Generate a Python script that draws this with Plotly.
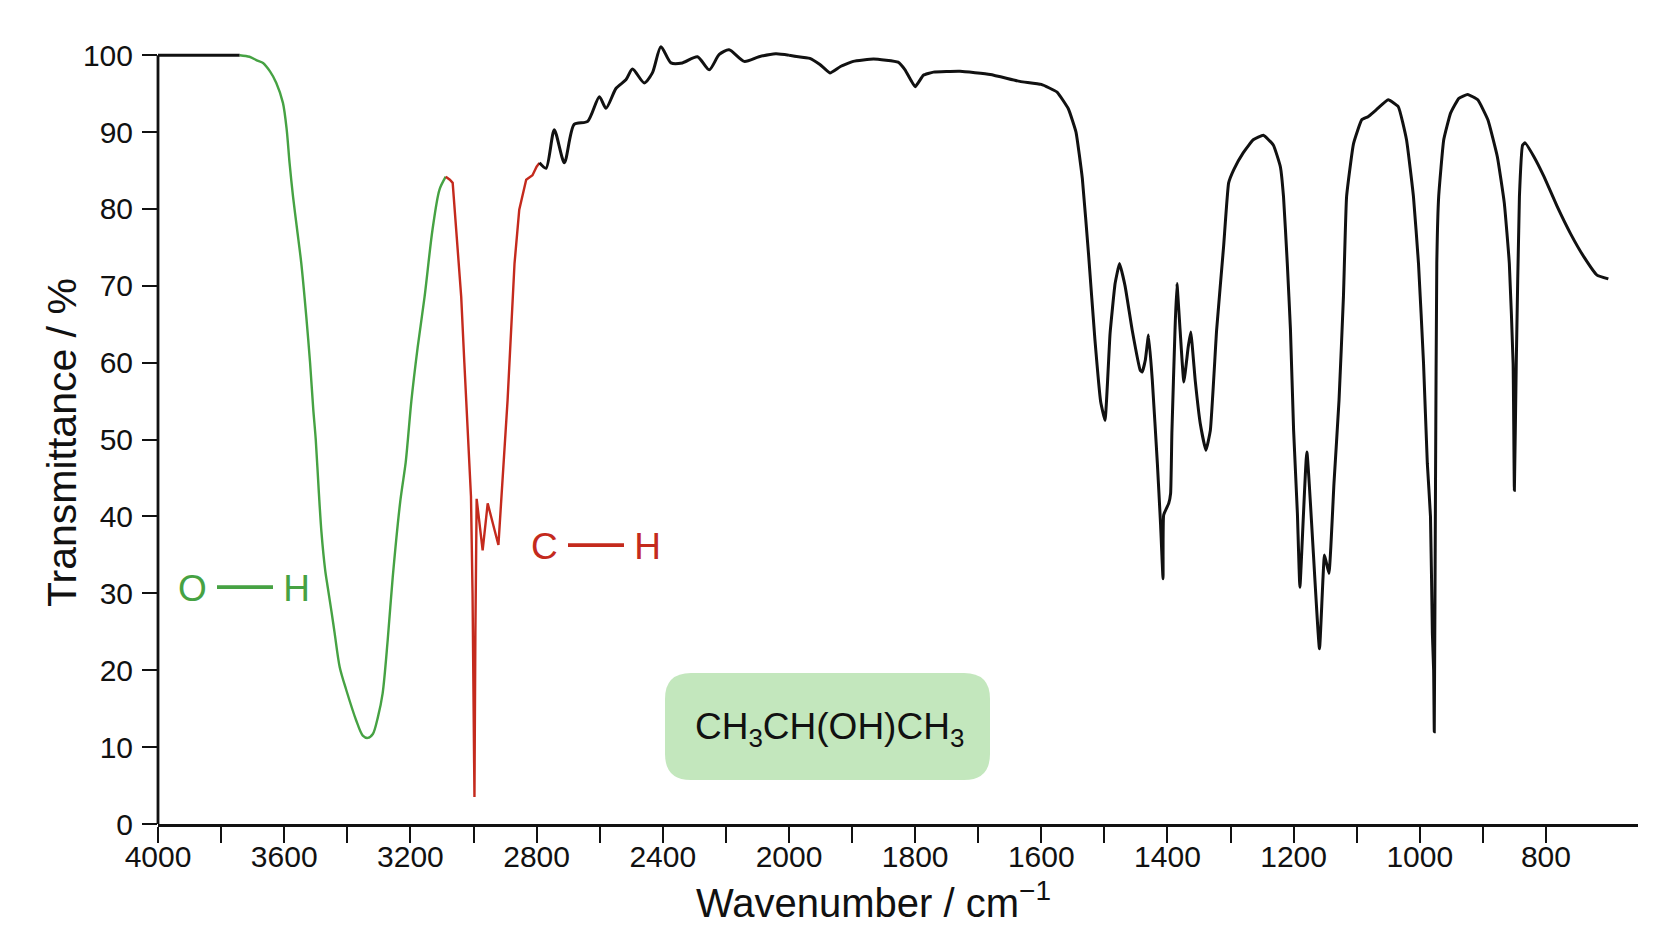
import plotly.graph_objects as go

# ---------------- data ----------------
# wavenumber / cm-1 and transmittance / %
flat_wn = [4000, 3870, 3741]
flat_T = [100, 100, 100]

oh_wn = [3741, 3710, 3685, 3667, 3645, 3625, 3604, 3592, 3583, 3572, 3559, 3546,
         3530, 3518, 3508, 3500, 3490, 3482, 3470, 3462, 3450, 3440, 3424, 3403,
         3372, 3351, 3335, 3319, 3303, 3288, 3272, 3256, 3232, 3215, 3208, 3197,
         3177, 3155, 3130, 3108, 3088]
oh_T = [100, 99.8, 99.3, 99, 97.9, 96.4, 93.8, 90.3, 86, 81.6, 77.3, 73,
        66, 60, 54, 50, 43, 38, 33, 30.8, 27.6, 24.8, 20.4, 17.4,
        13.5, 11.5, 11.2, 11.7, 13.9, 17, 23.9, 32.1, 42, 47, 50, 55,
        62, 68.6, 77.3, 82.5, 84.2]

ch_wn = [3088, 3075, 3066, 3055, 3039, 3029, 3018, 3008, 3003, 2999, 2997, 2994,
         2990, 2971, 2955, 2921, 2908, 2892, 2886, 2870, 2855, 2833, 2813, 2800, 2791]
ch_T = [84.2, 83.8, 83.4, 77.3, 68.6, 60, 51.2, 42.6, 30, 12, 3.5, 25,
        42.3, 35.6, 41.7, 36.3, 44.3, 55.1, 60, 72.9, 79.9, 83.8, 84.4, 85.5, 86]

hi_wn = [2791, 2770, 2744, 2712, 2681, 2638, 2601, 2580, 2548, 2517, 2496, 2459,
         2433, 2406, 2374, 2338, 2290, 2253, 2221, 2190, 2142, 2095, 2042, 2000]
hi_T = [86, 85.3, 90.3, 86, 91, 91.4, 94.6, 93.1, 95.7, 96.8, 98.2, 96.4,
        97.7, 101.1, 99, 99, 99.8, 98.1, 100.1, 100.7, 99.2, 99.8, 100.2, 100]

fp_wn = [2000, 1993, 1967, 1951, 1935, 1919, 1898, 1866, 1827, 1816, 1800, 1787,
         1771, 1729, 1681, 1634, 1600, 1575, 1557, 1545, 1535, 1525, 1515, 1506,
         1499, 1491, 1483, 1476, 1467, 1456, 1443, 1440, 1435, 1430, 1424, 1416,
         1411, 1407, 1406, 1398, 1395, 1393, 1388, 1385, 1380, 1374, 1367, 1363,
         1356, 1348, 1339, 1332, 1322, 1311, 1303, 1295, 1280, 1264, 1248, 1232,
         1221, 1216, 1210, 1205, 1200, 1194, 1190, 1179, 1159, 1151, 1144, 1136,
         1128, 1121, 1116, 1105, 1092, 1082, 1069, 1050, 1034, 1021, 1010, 1002,
         994, 988, 983, 980, 978, 977, 975, 973, 970, 962, 951, 938,
         924, 908, 892, 877, 866, 858, 852, 850, 847, 842, 837, 833,
         819, 803, 782, 761, 740, 719, 701]
fp_T = [100, 99.9, 99.6, 98.8, 97.7, 98.5, 99.2, 99.5, 99.1, 98.1, 95.9, 97.4,
        97.8, 97.9, 97.5, 96.6, 96.2, 95.2, 93, 90, 84, 74, 63, 55,
        52.5, 63.8, 70.3, 72.9, 69.9, 64.3, 59, 58.8, 60.4, 63.6, 57.7, 46.9,
        39.1, 31.9, 40.2, 41.7, 43, 50.8, 64.3, 70.3, 64.3, 57.5, 62.1, 64,
        57.7, 52.1, 48.6, 51.2, 64.3, 75.1, 83.4, 85.1, 87.3, 89, 89.6, 88.3,
        85.5, 81.6, 72.9, 64.3, 51.2, 40.4, 30.8, 48.4, 22.8, 35, 32.6, 44.3,
        55.1, 68.6, 81.6, 88.5, 91.6, 92, 92.9, 94.2, 93.3, 89, 81.6, 72.9,
        59.9, 46.9, 40, 24.8, 20, 12, 45, 72.9, 81.6, 89, 92.5, 94.4,
        94.9, 94.2, 91.6, 86.8, 80.8, 72.9, 59.9, 43.4, 59.9, 81.6, 88.3, 88.6,
        86.8, 84.2, 80.3, 76.8, 73.8, 71.4, 70.9]

# axis ticks
x1_ticks = [4000, 3600, 3200, 2800, 2400, 2000]
x1_labels = ["4000", "3600", "3200", "2800", "2400", "2000"]
x1_minor = [3800, 3400, 3000, 2600, 2200]
x2_ticks = [1800, 1600, 1400, 1200, 1000, 800]
x2_labels = ["1800", "1600", "1400", "1200", "1000", "800"]
x2_minor = [1900, 1700, 1500, 1300, 1100, 900]
y_ticks = [0, 10, 20, 30, 40, 50, 60, 70, 80, 90, 100]

# ---------------- layout geometry ----------------
# page body has an 8px margin, so the figure is 16px smaller than the window
W, H = 1642, 920
ML, MR, MT, MB = 150, 12, 28, 104
PW, PH = W - ML - MR, H - MT - MB
SPLIT = 631 / PW


def px(xr):  # reference-picture x pixel -> paper
    return (xr - 8 - ML) / PW


def py(yr):  # reference-picture y pixel -> paper
    return (H - MB - (yr - 8)) / PH


BLACK = "#111111"
GREEN = "#46a243"
RED = "#c42a1d"
FONT = "Liberation Sans, Arial, sans-serif"

fig = go.Figure()
fig.add_trace(go.Scatter(x=flat_wn, y=flat_T, mode="lines", xaxis="x", yaxis="y",
                         line=dict(color=BLACK, width=3), showlegend=False))
fig.add_trace(go.Scatter(x=oh_wn, y=oh_T, mode="lines", xaxis="x", yaxis="y",
                         line=dict(color=GREEN, width=2.4, shape="spline", smoothing=0.8),
                         showlegend=False))
fig.add_trace(go.Scatter(x=ch_wn, y=ch_T, mode="lines", xaxis="x", yaxis="y",
                         line=dict(color=RED, width=2.4), showlegend=False))
fig.add_trace(go.Scatter(x=hi_wn, y=hi_T, mode="lines", xaxis="x", yaxis="y",
                         line=dict(color=BLACK, width=3, shape="spline", smoothing=0.7),
                         showlegend=False))
fig.add_trace(go.Scatter(x=fp_wn, y=fp_T, mode="lines", xaxis="x2", yaxis="y2",
                         line=dict(color=BLACK, width=3, shape="spline", smoothing=0.35),
                         showlegend=False))

tickfont = dict(family=FONT, size=30, color=BLACK)
xcommon = dict(showline=True, linewidth=2.8, linecolor=BLACK, ticks="outside",
               ticklen=16, tickwidth=2, tickcolor=BLACK, showgrid=False,
               zeroline=False, tickfont=tickfont, ticklabelstandoff=-12,
               automargin=False)
minor_style = dict(ticks="outside", ticklen=16, tickwidth=2, tickcolor=BLACK,
                   showgrid=False, tickmode="array")

fig.update_layout(
    template="none",
    autosize=False,
    width=W, height=H,
    margin=dict(l=ML, r=MR, t=MT, b=MB, pad=0, autoexpand=False),
    paper_bgcolor="white", plot_bgcolor="white",
    xaxis=dict(domain=[0, SPLIT], range=[4000, 2000], anchor="y",
               tickmode="array", tickvals=x1_ticks, ticktext=x1_labels,
               minor=dict(tickvals=x1_minor, **minor_style), **xcommon),
    xaxis2=dict(domain=[SPLIT, 1], range=[2000, 654], anchor="y2",
                tickmode="array", tickvals=x2_ticks, ticktext=x2_labels,
                minor=dict(tickvals=x2_minor, **minor_style), **xcommon),
    yaxis=dict(domain=[0, 1], range=[0, 102.5], anchor="x", showline=False,
               ticks="outside", ticklen=15, tickwidth=2, tickcolor=BLACK,
               tickmode="array", tickvals=y_ticks, showgrid=False, zeroline=False,
               tickfont=tickfont, ticklabelstandoff=3, automargin=False),
    yaxis2=dict(domain=[0, 1], range=[0, 102.5], anchor="x2", visible=False,
                automargin=False),
)

# y axis line (only from 0 to 100)
fig.add_shape(type="line", xref="paper", yref="y", x0=0, x1=0, y0=0, y1=100,
              line=dict(color=BLACK, width=2.8))

# formula box (rounded rectangle)
bx0, bx1, by0, by1 = px(665), px(990), py(780), py(673)
rx, ry = 26 / PW, 26 / PH
path = (f"M {bx0 + rx},{by0} L {bx1 - rx},{by0} Q {bx1},{by0} {bx1},{by0 + ry} "
        f"L {bx1},{by1 - ry} Q {bx1},{by1} {bx1 - rx},{by1} "
        f"L {bx0 + rx},{by1} Q {bx0},{by1} {bx0},{by1 - ry} "
        f"L {bx0},{by0 + ry} Q {bx0},{by0} {bx0 + rx},{by0} Z")
fig.add_shape(type="path", xref="paper", yref="paper", path=path,
              fillcolor="#c3e7bd", line=dict(width=0), layer="below")

# annotations
ann = dict(xref="paper", yref="paper", showarrow=False, xanchor="center", yanchor="middle")
fig.add_annotation(text="Transmittance / %", textangle=-90, x=px(62), y=py(443),
                   font=dict(family=FONT, size=41, color=BLACK), **ann)
fig.add_annotation(text="Wavenumber / cm<sup>−1</sup>", x=px(873), y=py(900),
                   font=dict(family=FONT, size=40, color=BLACK), **ann)
fig.add_annotation(text="O <span style='font-size:56px'>—</span> H", x=px(244), y=py(581),
                   font=dict(family=FONT, size=37, color=GREEN), **ann)
fig.add_annotation(text="C <span style='font-size:56px'>—</span> H", x=px(596), y=py(539),
                   font=dict(family=FONT, size=37, color=RED), **ann)
fig.add_annotation(text="CH<sub>3</sub>CH(OH)CH<sub>3</sub>", x=px(829), y=py(729),
                   font=dict(family=FONT, size=37, color=BLACK), **ann)

fig.write_html("out.html")
